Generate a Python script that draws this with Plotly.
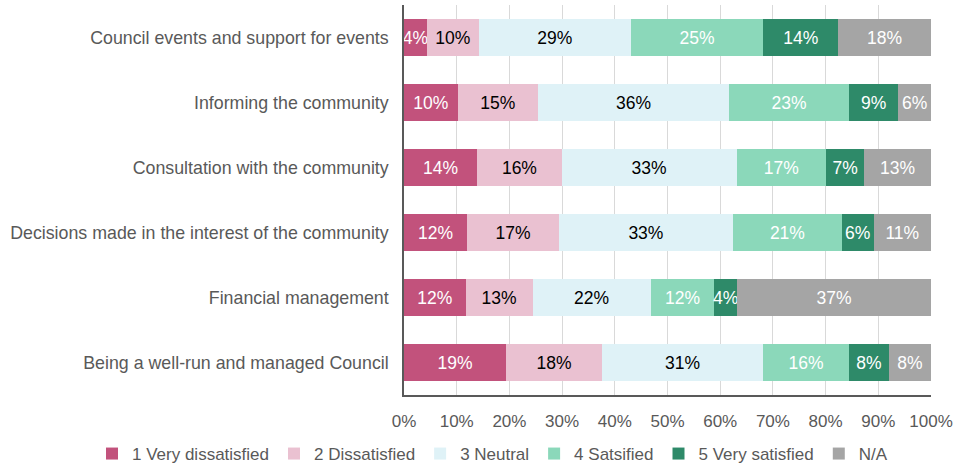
import plotly.graph_objects as go

categories = [
    "Council events and support for events",
    "Informing the community",
    "Consultation with the community",
    "Decisions made in the interest of the community",
    "Financial management",
    "Being a well-run and managed Council",
]
series_names = ["1 Very dissatisfied", "2 Dissatisfied", "3 Neutral",
                "4 Satsified", "5 Very satisfied", "N/A"]

very_dissatisfied = [4.3, 10.2, 13.9, 12.0, 11.7, 19.4]
dissatisfied      = [9.9, 15.2, 16.0, 17.4, 12.7, 18.1]
neutral           = [28.8, 36.3, 33.2, 33.0, 22.4, 30.7]
satisfied         = [25.2, 22.7, 17.0, 20.7, 12.1, 16.2]
very_satisfied    = [14.2, 9.4, 7.2, 6.0, 4.3, 7.6]
not_applicable    = [17.6, 6.2, 12.7, 10.9, 36.8, 8.0]

series_values = [very_dissatisfied, dissatisfied, neutral,
                 satisfied, very_satisfied, not_applicable]
colors = ["#C2527C", "#EAC1D1", "#DFF2F7", "#8BD8BA", "#2E8A69", "#A5A5A5"]
text_colors = ["#FFFFFF", "#000000", "#000000", "#FFFFFF", "#FFFFFF", "#FFFFFF"]

x_tick_values = [0, 10, 20, 30, 40, 50, 60, 70, 80, 90, 100]
x_tick_labels = ["0%", "10%", "20%", "30%", "40%", "50%",
                 "60%", "70%", "80%", "90%", "100%"]

FONT = "Liberation Sans, Arial, sans-serif"
GRAY = "#595959"

W, H = 957, 466
L, R, T, B = 404, 26, 5, 71
plot_w = W - L - R
plot_h = H - T - B

fig = go.Figure()
for name, vals, col, tcol in zip(series_names, series_values, colors, text_colors):
    fig.add_trace(go.Bar(
        y=categories, x=vals, name=name, orientation="h",
        marker=dict(color=col, line=dict(width=0)),
        texttemplate="%{x:.0f}%", textposition="inside", textangle=0,
        insidetextanchor="middle", constraintext="none",
        textfont=dict(family=FONT, size=17.5, color=tcol),
        hoverinfo="skip",
    ))

legend_left_px = 92
legend_center_y_px = 454

fig.update_layout(
    barmode="stack", bargap=0.43,
    width=W, height=H,
    margin=dict(l=L, r=R, t=T, b=B, autoexpand=False),
    plot_bgcolor="white", paper_bgcolor="white",
    font=dict(family=FONT, color=GRAY),
    showlegend=True,
    legend=dict(
        orientation="h", xref="paper", yref="paper",
        x=(legend_left_px - L) / plot_w, xanchor="left",
        y=-(legend_center_y_px - (T + plot_h)) / plot_h, yanchor="middle",
        font=dict(family=FONT, size=17, color=GRAY),
        itemwidth=30, traceorder="normal", bgcolor="rgba(0,0,0,0)",
    ),
    xaxis=dict(
        range=[0, 100], tickvals=x_tick_values, ticktext=x_tick_labels,
        showgrid=True, gridcolor="#D9D9D9", gridwidth=1,
        showline=True, linecolor=GRAY, linewidth=1.5,
        zeroline=False, ticks="", ticklabelstandoff=10, automargin=False,
        tickfont=dict(family=FONT, size=17, color=GRAY),
    ),
    yaxis=dict(
        autorange="reversed", showgrid=False,
        showline=True, linecolor=GRAY, linewidth=1.5,
        ticks="", ticklabelstandoff=10, automargin=False,
        tickfont=dict(family=FONT, size=17.8, color=GRAY),
    ),
)

fig.write_html(
    "out.html",
    config={"displayModeBar": False},
    post_script="document.body.style.margin='0px';document.body.style.overflow='hidden';",
)
